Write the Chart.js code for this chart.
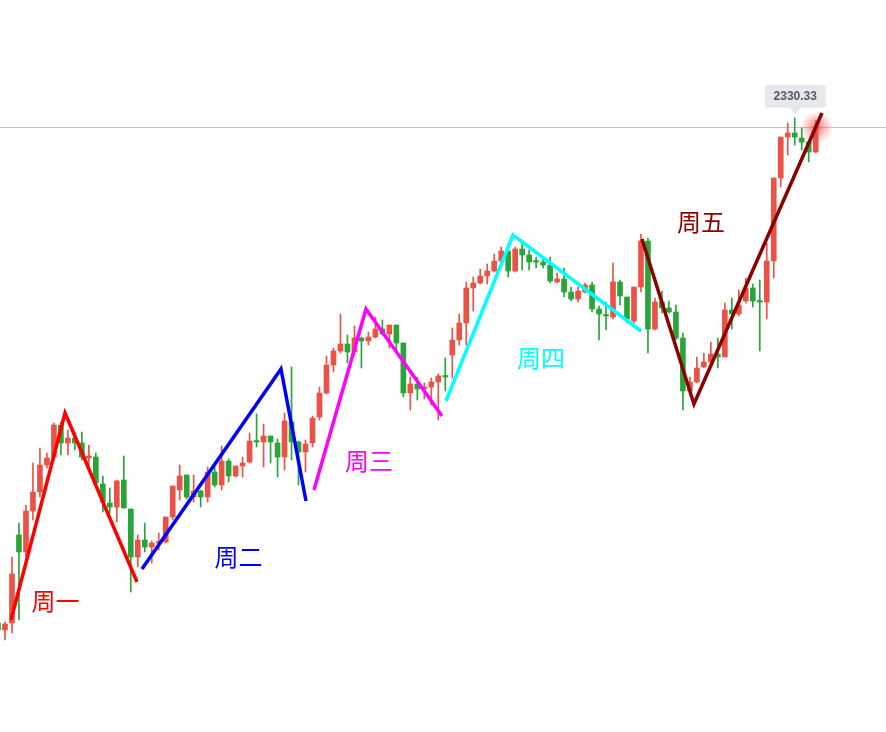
<!DOCTYPE html>
<html>
<head>
<meta charset="utf-8">
<script src="https://cdn.jsdelivr.net/npm/chart.js@4"></script>
<style>
html,body{margin:0;padding:0;background:#fff;}
#wrap{width:886px;height:732px;position:relative;}
</style>
</head>
<body>
<div id="wrap"><canvas id="c"></canvas></div>
<script>
// ---- data (prices) ----
const open = [2280.7,2280.0,2280.7,2289.5,2287.8,2291.9,2293.8,2296.5,2297.3,2300.5,
2298.7,2299.2,2298.7,2297.2,2297.3,2294.6,2292.7,2292.3,2295.0,2292.1,
2287.3,2289.0,2288.3,2288.7,2288.8,2291.3,2294.0,2295.5,2293.3,2293.9,
2293.3,2295.8,2294.5,2296.9,2295.4,2296.4,2296.8,2298.9,2298.8,2299.4,
2298.7,2297.3,2300.8,2298.8,2297.8,2298.7,2301.3,2303.7,2306.5,2307.9,
2308.6,2307.8,2309.2,2308.9,2309.3,2310.1,2309.6,2310.5,2308.7,2303.7,
2304.6,2304.1,2304.3,2304.8,2305.4,2307.5,2309.0,2310.7,2314.2,2314.7,
2315.4,2315.9,2316.9,2317.9,2315.9,2318.1,2317.5,2316.9,2316.8,2316.5,
2314.8,2315.1,2313.8,2313.1,2313.8,2314.5,2312.1,2311.5,2311.3,2314.8,
2313.3,2310.9,2314.3,2318.9,2310.1,2312.8,2312.2,2311.8,2309.2,2303.9,
2304.8,2306.3,2306.8,2307.6,2307.3,2312.0,2311.6,2312.9,2314.2,2312.9,
2312.8,2316.9,2325.2,2329.3,2329.7,2329.2,2328.8,2327.8];
const high = [2281.0,2280.8,2287.3,2290.7,2292.5,2296.7,2298.2,2297.7,2300.7,2300.8,
2300.0,2299.8,2299.8,2298.5,2297.7,2295.4,2294.2,2295.0,2297.4,2292.1,
2289.5,2290.7,2288.9,2289.7,2291.3,2294.4,2296.5,2295.5,2295.5,2294.0,
2296.3,2296.3,2298.4,2297.1,2296.4,2297.3,2299.7,2301.6,2300.6,2299.4,
2299.1,2301.7,2306.3,2298.9,2299.0,2301.4,2304.3,2307.4,2308.2,2311.6,
2309.5,2310.4,2309.3,2309.8,2311.3,2311.0,2310.5,2310.5,2308.7,2305.3,
2305.3,2304.7,2305.2,2305.6,2307.2,2310.2,2311.6,2314.8,2315.3,2316.1,
2316.6,2317.6,2318.3,2317.9,2318.3,2318.6,2318.0,2317.3,2317.1,2317.3,
2315.7,2316.2,2314.3,2314.3,2314.7,2314.8,2312.4,2312.8,2316.7,2315.0,
2313.3,2314.3,2319.6,2319.2,2313.2,2313.9,2312.9,2312.5,2309.7,2305.3,
2307.3,2307.7,2308.8,2309.2,2312.7,2313.2,2314.0,2315.2,2314.6,2315.0,
2318.7,2325.2,2329.3,2330.7,2331.2,2330.2,2328.8,2331.0];
const low = [2279.7,2279.0,2279.7,2281.0,2287.3,2291.0,2293.3,2296.2,2297.0,2297.5,
2297.5,2298.0,2297.0,2296.5,2294.6,2291.8,2291.7,2290.8,2292.2,2283.8,
2286.3,2287.8,2286.7,2288.0,2288.7,2291.0,2293.0,2293.1,2292.8,2292.3,
2292.8,2294.3,2294.0,2294.8,2295.3,2295.3,2296.7,2298.3,2296.3,2296.7,
2295.3,2296.0,2297.0,2294.5,2295.8,2298.3,2301.0,2303.6,2305.8,2307.7,
2306.7,2307.5,2306.2,2308.5,2309.2,2309.5,2308.2,2308.0,2303.3,2302.0,
2303.0,2303.1,2302.5,2301.0,2303.9,2305.2,2308.5,2308.5,2311.9,2314.6,
2314.6,2315.8,2316.8,2315.3,2315.8,2316.0,2316.0,2316.2,2316.2,2314.7,
2314.7,2313.3,2312.9,2312.8,2313.7,2311.8,2309.0,2310.0,2311.1,2312.5,
2310.7,2310.7,2313.8,2307.7,2310.0,2311.7,2311.7,2309.0,2302.0,2303.7,
2304.7,2306.2,2306.7,2306.2,2307.3,2310.1,2311.4,2312.7,2312.3,2307.9,
2311.1,2315.2,2324.3,2327.5,2328.5,2328.0,2326.8,2327.7];
const close = [2280.0,2280.6,2285.6,2287.8,2291.9,2293.8,2296.5,2297.2,2300.5,2298.7,
2299.2,2298.7,2297.3,2297.4,2294.7,2292.8,2292.3,2294.9,2292.2,2287.3,
2289.0,2288.3,2288.7,2288.8,2291.3,2294.4,2295.4,2293.3,2293.9,2293.3,
2295.8,2294.5,2296.9,2295.4,2296.4,2296.7,2298.9,2298.8,2299.4,2298.8,
2297.3,2300.9,2298.8,2297.8,2298.6,2301.2,2303.7,2306.5,2307.9,2308.6,
2307.8,2309.2,2308.9,2309.3,2310.1,2309.6,2310.5,2308.7,2303.7,2304.6,
2304.1,2304.3,2304.8,2305.4,2305.3,2309.0,2310.7,2314.2,2314.7,2315.4,
2315.9,2316.9,2317.9,2315.9,2318.1,2317.5,2316.8,2316.8,2316.5,2314.9,
2315.1,2313.8,2313.1,2313.9,2314.5,2312.1,2311.6,2311.4,2314.8,2313.4,
2311.1,2314.3,2318.9,2310.1,2312.8,2312.2,2311.8,2309.2,2303.9,2304.8,
2306.2,2306.8,2307.6,2307.3,2312.0,2311.6,2312.5,2314.2,2312.9,2312.8,
2316.9,2325.2,2329.3,2329.7,2329.3,2328.8,2327.8,2330.33];
const categories = open.map((_, i) => i);   // candle index

// hand-drawn wave lines: [candle index, price]
const wave1 = [[1.86, 2281.0], [9.59, 2301.7], [19.89, 2284.8]];
const wave2 = [[20.60, 2286.1], [40.49, 2306.1], [44.07, 2292.9]];
const wave3 = [[45.21, 2294.0], [52.65, 2312.1], [63.53, 2301.4]];
const wave4 = [[64.10, 2302.9], [73.69, 2319.5], [92.00, 2309.9]];
const wave5 = [[92.14, 2319.1], [99.58, 2302.6], [117.90, 2331.7]];
const waves = [wave1, wave2, wave3, wave4, wave5];
const waveColors = ['#ff0000', '#0000ff', '#ff00ff', '#00ffff', '#8b0000'];

// text labels: name, candle index, price
const labelNames = ['周一', '周二', '周三', '周四', '周五'];
const labelX = [8.23, 34.41, 53.08, 77.69, 100.59];
const labelY = [2282.9, 2287.35, 2296.9, 2307.25, 2320.8];

const lastPrice = 2330.33;
const lastPriceText = '2330.33';

const UP = '#eb5247', DOWN = '#28a539';
const candleColors = categories.map(i => close[i] >= open[i] ? UP : DOWN);

const wickData = categories.map(i => ({x: i, y: [low[i], high[i]]}));
const bodyData = categories.map(i => ({x: i, y: [open[i], close[i]]}));

const datasets = [];
waves.forEach((w, k) => {
  datasets.push({
    type: 'line',
    data: w.map(p => ({x: p[0], y: p[1]})),
    borderColor: waveColors[k],
    borderWidth: 3.5,
    pointRadius: 0,
    tension: 0,
    borderJoinStyle: 'miter',
    borderCapStyle: 'butt',
    fill: false,
    order: 0
  });
});
datasets.push({
  type: 'bar', data: bodyData, backgroundColor: candleColors,
  barThickness: 5, minBarLength: 1.5, grouped: false, order: 1, borderWidth: 0
});
datasets.push({
  type: 'bar', data: wickData, backgroundColor: candleColors,
  barThickness: 1, grouped: false, order: 2, borderWidth: 0
});

const overlay = {
  id: 'overlay',
  beforeDatasetsDraw(chart) {
    const {ctx, scales: {x, y}, chartArea} = chart;
    const py = Math.round(y.getPixelForValue(lastPrice)) + 0.5;
    ctx.save();
    ctx.strokeStyle = '#eab3b3';
    ctx.lineWidth = 1;
    ctx.beginPath();
    ctx.moveTo(chartArea.left, py);
    ctx.lineTo(chartArea.right, py);
    ctx.stroke();
    // glow at last candle
    const gx = x.getPixelForValue(categories.length - 1) + 1;
    const g = ctx.createRadialGradient(gx, py, 0, gx, py, 17);
    g.addColorStop(0, 'rgba(240,40,40,0.75)');
    g.addColorStop(0.5, 'rgba(245,80,80,0.35)');
    g.addColorStop(1, 'rgba(255,120,120,0)');
    ctx.fillStyle = g;
    ctx.beginPath();
    ctx.arc(gx, py, 17, 0, Math.PI * 2);
    ctx.fill();
    ctx.restore();
  },
  afterDatasetsDraw(chart) {
    const {ctx, scales: {x, y}} = chart;
    ctx.save();
    ctx.font = '24px "Noto Sans CJK SC"';
    ctx.textAlign = 'center';
    ctx.textBaseline = 'middle';
    labelNames.forEach((t, k) => {
      ctx.fillStyle = waveColors[k];
      ctx.fillText(t, x.getPixelForValue(labelX[k]), y.getPixelForValue(labelY[k]));
    });
    // last price tag
    const cx = x.getPixelForValue(114) + 0.5;
    const tip = y.getPixelForValue(lastPrice) - 12;
    const bh = 23, bw = 61;
    const by = tip - 7 - bh;
    const bx = cx - bw / 2;
    ctx.fillStyle = '#e6e8eb';
    ctx.beginPath();
    const r = 3;
    ctx.moveTo(bx + r, by);
    ctx.lineTo(bx + bw - r, by);
    ctx.quadraticCurveTo(bx + bw, by, bx + bw, by + r);
    ctx.lineTo(bx + bw, by + bh - r);
    ctx.quadraticCurveTo(bx + bw, by + bh, bx + bw - r, by + bh);
    ctx.lineTo(cx + 6, by + bh);
    ctx.lineTo(cx, tip);
    ctx.lineTo(cx - 6, by + bh);
    ctx.lineTo(bx + r, by + bh);
    ctx.quadraticCurveTo(bx, by + bh, bx, by + bh - r);
    ctx.lineTo(bx, by + r);
    ctx.quadraticCurveTo(bx, by, bx + r, by);
    ctx.closePath();
    ctx.fill();
    ctx.fillStyle = '#555a5e';
    ctx.font = 'bold 12px "Liberation Sans", Arial, sans-serif';
    ctx.fillText(lastPriceText, cx, by + bh / 2 + 0.5);
    ctx.restore();
  }
};

new Chart(document.getElementById('c'), {
  type: 'bar',
  data: {labels: categories, datasets},
  options: {
    responsive: true,
    maintainAspectRatio: false,
    animation: false,
    layout: {padding: 0},
    plugins: {legend: {display: false}, tooltip: {enabled: false}},
    scales: {
      x: {type: 'linear', display: false, min: 0.286, max: 127.06, offset: false},
      y: {display: false, min: 2269.8, max: 2343.0}
    }
  },
  plugins: [overlay]
});
</script>
</body>
</html>
